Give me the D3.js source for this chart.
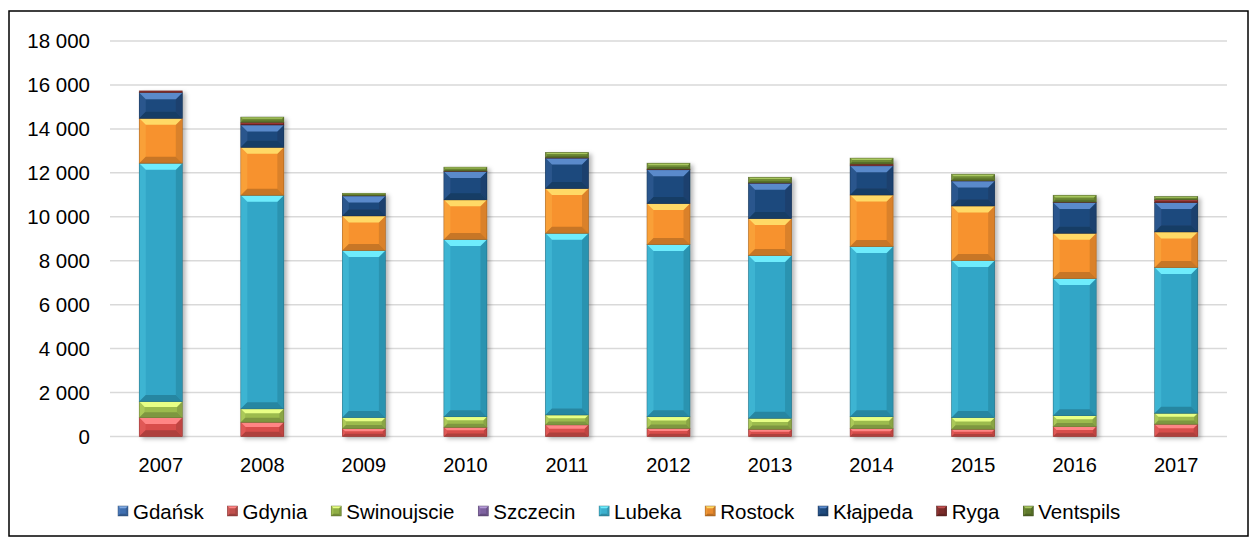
<!DOCTYPE html>
<html><head><meta charset="utf-8">
<script src="https://cdn.jsdelivr.net/npm/d3@7"></script>
<style>body{margin:0;background:#fff}svg{display:block}text{font-family:"Liberation Sans",Arial,sans-serif;fill:#000}</style>
</head><body><svg id="c" width="1255" height="541"></svg>
<script>
const years = ["2007","2008","2009","2010","2011","2012","2013","2014","2015","2016","2017"];
const seriesNames = ["Gdańsk","Gdynia","Swinoujscie","Szczecin","Lubeka","Rostock","Kłajpeda","Ryga","Ventspils"];
const gdansk      = [0,0,0,0,0,0,0,0,0,0,0];
const gdynia      = [860,650,360,420,530,370,330,360,330,450,560];
const swinoujscie = [730,610,500,480,450,530,500,540,530,500,500];
const szczecin    = [0,0,0,0,0,0,0,0,0,0,0];
const lubeka      = [10850,9720,7610,8070,8270,7840,7410,7750,7150,6240,6630];
const rostock     = [2040,2180,1570,1800,2040,1860,1680,2340,2480,2060,1620];
const klajpeda    = [1170,1020,910,1290,1380,1540,1610,1330,1140,1400,1340];
const ryga        = [80,120,20,20,30,30,20,80,20,20,120];
const ventspils   = [0,240,100,180,230,270,250,270,290,310,150];
const yTicks = [0,2000,4000,6000,8000,10000,12000,14000,16000,18000];

const seriesValues = [gdansk,gdynia,swinoujscie,szczecin,lubeka,rostock,klajpeda,ryga,ventspils];
const baseCol = ["#3F6FB0","#D84E4B","#9CBB4E","#7E62A0","#32A6C7","#F7922E","#1F4A7D","#8A2E2C","#6E8A34"];
const hiCol   = ["#7FA8E0","#FF8585","#E8FF85","#B49AD6","#6EECFC","#FFD966","#5A8ACB","#C05050","#A8C760"];
const legendBase = ["#3F6FB0","#C0504D","#8FAE45","#7E62A0","#3CB0CE","#E88A2E","#1F4A7D","#7B2C2A","#5F7A2C"];

const rows = years.map((y,i)=>{const r={year:y}; seriesNames.forEach((s,k)=>r[s]=seriesValues[k][i]); return r;});
const stack = d3.stack().keys(seriesNames)(rows);

const svg = d3.select("#c");
const x0 = 110, x1 = 1227, yTop = 41, yBot = 436.5;
const x = d3.scaleBand().domain(years).range([x0,x1]).paddingInner(0.576).paddingOuter(0.288);
const y = d3.scaleLinear().domain([0,18000]).range([yBot,yTop]);

const defs = svg.append("defs");
const f = defs.append("filter").attr("id","sh").attr("x","-20%").attr("y","-10%").attr("width","150%").attr("height","120%");
f.append("feDropShadow").attr("dx",3).attr("dy",2).attr("stdDeviation",2.2).attr("flood-color","#000").attr("flood-opacity",0.28);

svg.append("rect").attr("x",9).attr("y",11).attr("width",1239).attr("height",525)
  .attr("fill","#fff").attr("stroke","#000").attr("stroke-width",1.5);

// gridlines
svg.append("g").selectAll("line").data(yTicks).join("line")
  .attr("x1",x0).attr("x2",x1).attr("y1",d=>y(d)).attr("y2",d=>y(d))
  .attr("stroke","#D9D9D9").attr("stroke-width",1.5);

// y labels
const fmt = v => d3.format(",")(v).replace(/,/g," ");
svg.append("g").selectAll("text").data(yTicks).join("text")
  .attr("x",90).attr("y",d=>y(d)).attr("dy","0.36em").attr("text-anchor","end")
  .attr("font-size",20.5).text(fmt);

// x labels
svg.append("g").selectAll("text").data(years).join("text")
  .attr("x",d=>x(d)+x.bandwidth()/2).attr("y",472).attr("text-anchor","middle")
  .attr("font-size",20).text(d=>d);

function bevel(g, bx, by, w, h, k, bmax){
  if (h < 0.4) return;
  const base = baseCol[k], hi = hiCol[k];
  const b = Math.max(0, Math.min(bmax, h/3, w/4));
  g.append("rect").attr("x",bx).attr("y",by).attr("width",w).attr("height",h).attr("fill",base);
  if (b > 0.6) {
    const P = pts => pts.map(p=>p.join(",")).join(" ");
    const leftC = d3.interpolateRgb(base, hi)(0.2);
    const rightC = d3.color(base).darker(0.35).formatHex();
    const botC = d3.color(base).darker(0.6).formatHex();
    g.append("polygon").attr("points",P([[bx,by],[bx+b,by+b],[bx+b,by+h-b],[bx,by+h]])).attr("fill",leftC);
    g.append("polygon").attr("points",P([[bx+w,by],[bx+w-b,by+b],[bx+w-b,by+h-b],[bx+w,by+h]])).attr("fill",rightC);
    g.append("polygon").attr("points",P([[bx,by+h],[bx+w,by+h],[bx+w-b,by+h-b],[bx+b,by+h-b]])).attr("fill",botC);
    g.append("polygon").attr("points",P([[bx,by],[bx+w,by],[bx+w-b,by+b],[bx+b,by+b]])).attr("fill",hi);
  }
  g.append("rect").attr("x",bx).attr("y",by).attr("width",w).attr("height",h)
    .attr("fill","none").attr("stroke",d3.color(base).darker(1.6).formatHex()).attr("stroke-width",0.6).attr("stroke-opacity",0.7);
}

// bars
const barsG = svg.append("g");
years.forEach((yr,i)=>{
  const g = barsG.append("g").attr("filter","url(#sh)");
  stack.forEach((layer,k)=>{
    const d = layer[i];
    const top = y(d[1]), bot = y(d[0]);
    bevel(g, x(yr), top, x.bandwidth(), bot-top, k, 6.5);
  });
});

// legend
const lg = svg.append("g");
let lx = 118;
seriesNames.forEach((s,k)=>{
  const g = lg.append("g");
  const save = baseCol[k];
  baseCol[k] = legendBase[k];
  bevel(g, lx, 506, 10, 10, k, 2.2);
  baseCol[k] = save;
  const t = g.append("text").attr("x",lx+15).attr("y",519).attr("font-size",20.5).text(s);
  lx += 15 + t.node().getComputedTextLength() + 23.8;
});
</script>
</body></html>
